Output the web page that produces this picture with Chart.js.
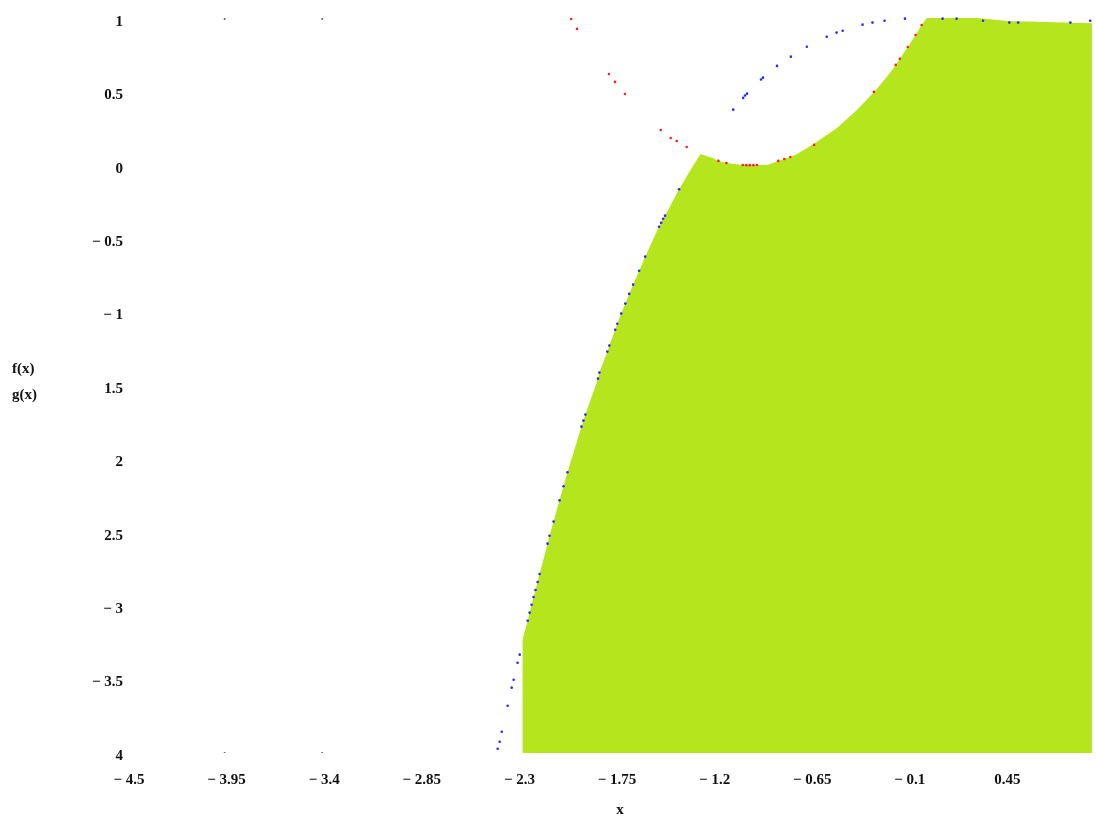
<!DOCTYPE html>
<html>
<head>
<meta charset="utf-8">
<script src="https://cdn.jsdelivr.net/npm/chart.js@4/dist/chart.umd.min.js"></script>
<style>
    body { margin: 0; background: #fff; }
    canvas { display: block; }
</style>
</head>
<body>
<canvas id="chart1" width="1096" height="818"></canvas>
<script>
// tick values and the labels as printed on the plot
const xTickValues = [-4.5, -3.95, -3.4, -2.85, -2.3, -1.75, -1.2, -0.65, -0.1, 0.45];
const xTickLabels = ['− 4.5', '− 3.95', '− 3.4', '− 2.85', '− 2.3', '− 1.75', '− 1.2', '− 0.65', '− 0.1', '0.45'];
const yTickValues = [1, 0.5, 0, -0.5, -1, -1.5, -2, -2.5, -3, -3.5, -4];
const yTickLabels = ['1', '0.5', '0', '− 0.5', '− 1', '1.5', '2', '2.5', '− 3', '− 3.5', '4'];

// shaded region (upper edge, lower of the two curves)
const regionX = [-2.272, -2.272, -2.242, -2.231, -2.220, -2.209, -2.198, -2.186, -2.175, -2.130, -2.119, -2.096, -2.063, -2.040, -2.018, -1.939, -1.928, -1.917, -1.846, -1.838, -1.793, -1.782, -1.749, -1.737, -1.715, -1.692, -1.670, -1.648, -1.614, -1.580, -1.502, -1.490, -1.479, -1.468, -1.389, -1.330, -1.268, -1.200, -1.167, -1.122, -1.032, -0.950, -0.892, -0.830, -0.796, -0.762, -0.724, -0.629, -0.499, -0.387, -0.291, -0.219, -0.168, -0.145, -0.100, -0.056, -0.022, 0.006, 0.287, 0.466, 0.980];
const regionY = [-4, -3.230, -3.099, -3.044, -2.990, -2.937, -2.890, -2.835, -2.781, -2.574, -2.520, -2.424, -2.279, -2.183, -2.088, -1.777, -1.736, -1.695, -1.450, -1.409, -1.266, -1.225, -1.117, -1.076, -1.007, -0.939, -0.873, -0.810, -0.715, -0.619, -0.415, -0.388, -0.361, -0.340, -0.160, -0.040, 0.080, 0.053, 0.033, 0.019, 0.005, 0.005, 0.005, 0.033, 0.046, 0.060, 0.080, 0.150, 0.257, 0.380, 0.500, 0.605, 0.687, 0.728, 0.809, 0.891, 0.959, 1.007, 1.007, 0.986, 0.970];

// f(x) points (red)
const fX = [-1.997, -1.964, -1.784, -1.750, -1.694, -1.492, -1.436, -1.402, -1.346, -1.167, -1.122, -1.03, -1.01, -0.99, -0.97, -0.95, -0.830, -0.796, -0.762, -0.628, -0.291, -0.168, -0.145, -0.100, -0.056, -0.022];
const fY = [1.000, 0.932, 0.625, 0.571, 0.489, 0.244, 0.189, 0.169, 0.128, 0.033, 0.019, 0.005, 0.004, 0.004, 0.004, 0.005, 0.033, 0.046, 0.060, 0.142, 0.503, 0.687, 0.728, 0.809, 0.891, 0.959];

// g(x) points (blue)
const gX = [-2.411, -2.400, -2.388, -2.355, -2.332, -2.321, -2.299, -2.287, -2.242, -2.231, -2.220, -2.209, -2.198, -2.186, -2.175, -2.130, -2.119, -2.096, -2.063, -2.040, -2.018, -1.939, -1.928, -1.917, -1.846, -1.838, -1.793, -1.782, -1.749, -1.737, -1.715, -1.692, -1.670, -1.648, -1.614, -1.580, -1.502, -1.490, -1.479, -1.468, -1.389, -1.084, -1.028, -1.017, -1.006, -0.927, -0.916, -0.837, -0.759, -0.669, -0.557, -0.501, -0.467, -0.355, -0.299, -0.231, -0.116, 0.096, 0.175, 0.324, 0.472, 0.522, 0.816, 0.928];
const gY = [-3.971, -3.923, -3.855, -3.678, -3.555, -3.501, -3.385, -3.330, -3.099, -3.044, -2.990, -2.937, -2.890, -2.835, -2.781, -2.574, -2.520, -2.424, -2.279, -2.183, -2.088, -1.777, -1.736, -1.695, -1.450, -1.409, -1.266, -1.225, -1.117, -1.076, -1.007, -0.939, -0.873, -0.810, -0.715, -0.619, -0.415, -0.388, -0.361, -0.340, -0.160, 0.382, 0.462, 0.478, 0.491, 0.587, 0.600, 0.680, 0.743, 0.811, 0.879, 0.907, 0.920, 0.961, 0.975, 0.988, 1.002, 1.002, 1.002, 0.988, 0.975, 0.975, 0.975, 0.988];

// leftover frame tick marks (grey)
const frameX = [-3.95, -3.4, -3.95, -3.4];
const frameY = [1, 1, -4, -4];

const toPoints = (xs, ys) => xs.map((x, i) => ({ x: x, y: ys[i] }));

const tickFont = { family: 'Liberation Serif', size: 15, weight: 'bold' };

const axisTitles = {
    id: 'axisTitles',
    afterDraw(chart) {
        const ctx = chart.ctx;
        ctx.save();
        ctx.fillStyle = '#111';
        ctx.font = 'bold 15px "Liberation Serif"';
        ctx.textBaseline = 'middle';
        ctx.textAlign = 'left';
        ctx.fillText('f(x)', 12, 369);
        ctx.fillText('g(x)', 12, 395);
        ctx.textAlign = 'center';
        ctx.fillText('x', 620, 810);
        ctx.restore();
    }
};

const config1 = {
    type: 'scatter',
    data: {
        datasets: [
            {
                label: 'region',
                data: toPoints(regionX, regionY),
                showLine: true,
                fill: 'start',
                backgroundColor: 'rgb(181, 230, 29)',
                borderWidth: 0,
                pointRadius: 0,
                order: 3
            },
            {
                label: 'f(x)',
                data: toPoints(fX, fY),
                pointRadius: 1.3,
                pointBackgroundColor: 'rgb(255, 30, 30)',
                pointBorderWidth: 0,
                order: 1
            },
            {
                label: 'g(x)',
                data: toPoints(gX, gY),
                pointRadius: 1.3,
                pointBackgroundColor: 'rgb(40, 40, 255)',
                pointBorderWidth: 0,
                order: 1
            },
            {
                label: 'frame',
                data: toPoints(frameX, frameY),
                pointRadius: 1,
                pointBackgroundColor: 'rgb(90, 90, 90)',
                pointBorderWidth: 0,
                order: 2
            }
        ]
    },
    options: {
        responsive: false,
        animation: false,
        layout: { padding: { top: 16, right: 0, left: 0, bottom: 0 } },
        plugins: {
            legend: { display: false },
            tooltip: { enabled: false }
        },
        scales: {
            x: {
                type: 'linear',
                min: -4.5,
                max: 0.938,
                grid: { display: false, drawTicks: false },
                border: { display: false },
                afterBuildTicks: (scale) => { scale.ticks = xTickValues.map(v => ({ value: v })); },
                afterFit: (scale) => {
                    scale.height = 65;
                    scale.paddingLeft = 0;
                    scale.paddingRight = 0;
                },
                ticks: {
                    autoSkip: false,
                    maxRotation: 0,
                    padding: 18,
                    labelOffset: 2,
                    color: '#111',
                    font: tickFont,
                    callback: (value, index) => xTickLabels[index]
                }
            },
            y: {
                type: 'linear',
                min: -4,
                max: 1.02,
                grid: { display: false, drawTicks: false },
                border: { display: false },
                afterBuildTicks: (scale) => { scale.ticks = yTickValues.map(v => ({ value: v })); },
                afterFit: (scale) => {
                    scale.width = 127;
                    scale.paddingTop = 0;
                    scale.paddingBottom = 0;
                },
                ticks: {
                    autoSkip: false,
                    padding: 4,
                    labelOffset: 3,
                    color: '#111',
                    font: tickFont,
                    callback: (value, index) => yTickLabels[index]
                }
            }
        }
    },
    plugins: [axisTitles]
};

const myChart1 = new Chart(document.getElementById('chart1').getContext('2d'), config1);
</script>
</body>
</html>
